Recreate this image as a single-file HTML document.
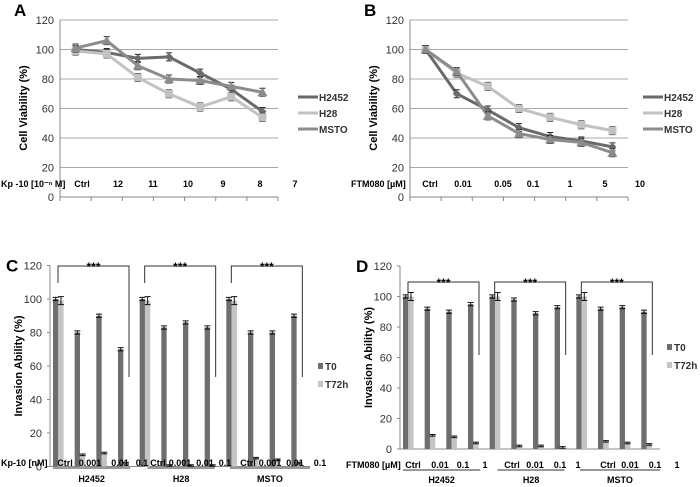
<!DOCTYPE html>
<html><head><meta charset="utf-8"><style>
body{margin:0;background:#fff}
svg{display:block;font-family:"Liberation Sans",sans-serif}
</style></head><body>
<svg id="fig" width="700" height="487" viewBox="0 0 700 487"></svg>
<script>
// ---- Panel A/B data ----
const catsA = ["Ctrl","12","11","10","9","8","7"];
const aH2452 = [100,98,94,95,84,73,58];
const aH28 = [99,97,81,70,61,68,54];
const aMSTO = [101,106,89,80,79,75,71];
const catsB = ["Ctrl","0.01","0.05","0.1","1","5","10"];
const bH2452 = [100,70,59,47,41,38,34];
const bH28 = [100,84,75,60,54,49,45];
const bMSTO = [100,85,55,43,39,37,30];
const yTicks = [0,20,40,60,80,100,120];
// ---- Panel C/D data ----
const cellLines = ["H2452","H28","MSTO"];
const concC = ["Ctrl","0.001","0.01","0.1"];
const concD = ["Ctrl","0.01","0.1","1"];
const cT0 = [100,80,90,70,100,83,86,83,100,80,80,90];
const cT72 = [99,7,8,2,99,0.6,0.6,0.6,99,5,4,2];
const dT0 = [100,92,90,95,100,98,89,93,100,92,93,90];
const dT72 = [100,9,8,4,100,2,2,1,100,5,4,3];

const S = document.getElementById('fig');
const NS = "http://www.w3.org/2000/svg";
function mk(tag, at, txt){const e=document.createElementNS(NS,tag);for(const k in at)e.setAttribute(k,at[k]);if(txt!=null)e.textContent=txt;S.appendChild(e);return e;}

function linePanel(ox, label, cats, series, names, colors, xLabel, labelXs, legX){
  const x0=ox+60, x1=ox+278, yb=197, yt=20;
  const y=v=>yb-(v/120)*(yb-yt);
  const cw=(x1-x0)/7;
  const X=i=>x0+cw*(i+0.5);
  let e=mk('text',{x:ox+14,y:16,'font-size':17,'font-weight':'bold'},label);
  
  
  yTicks.forEach(t=>{
    if(t>0){e=mk('line',{x1:x0,x2:x1,y1:y(t),y2:y(t),stroke:'#a8a8a8','stroke-width':1});
    }
    e=mk('text',{x:x0-6,y:y(t)+4,'font-size':11,'text-anchor':'end',fill:'#333'},t);
    
  });
  e=mk('line',{x1:x0,x2:x0,y1:yt,y2:yb,stroke:'#888'});
  
  e=mk('line',{x1:x0,x2:x1,y1:yb,y2:yb,stroke:'#888'});
  
  for(let i=0;i<=7;i++){e=mk('line',{x1:x0+cw*i,x2:x0+cw*i,y1:yb,y2:yb+4,stroke:'#888'});
    }
  e=mk('text',{x:0,y:0,'font-size':11,'font-weight':'bold','text-anchor':'middle',transform:`translate(${ox+27},108) rotate(-90)`},'Cell Viability (%)');
  
  e=mk('text',{x:ox+1,y:187,'font-size':9,'font-weight':'bold'},xLabel);
  
  cats.forEach((c,i)=>{e=mk('text',{x:labelXs[i],y:187,'font-size':9,'font-weight':'bold','text-anchor':'middle'},c);
    });
  series.forEach((d,s)=>{
    const pts=d.map((v,i)=>X(i)+','+y(v)).join(' ');
    e=mk('polyline',{points:pts,fill:'none',stroke:colors[s],'stroke-width':3});
    
    d.forEach((v,i)=>{
      e=mk('path',{d:`M${X(i)},${y(v)-4}V${y(v)+4}M${X(i)-3},${y(v)-4}H${X(i)+3}M${X(i)-3},${y(v)+4}H${X(i)+3}`,stroke:'#222','stroke-width':1,fill:'none'});
      
      if(s===1){e=mk('rect',{x:X(i)-4,y:y(v)-4,width:8,height:8,fill:colors[s]});}
      else if(s===2){e=mk('polygon',{points:`${X(i)},${y(v)-5} ${X(i)-5},${y(v)+4} ${X(i)+5},${y(v)+4}`,fill:colors[s]});}
      else{e=mk('polygon',{points:`${X(i)},${y(v)-4} ${X(i)+4},${y(v)} ${X(i)},${y(v)+4} ${X(i)-4},${y(v)}`,fill:colors[s]});}
      
    });
    const ly=97+s*16;
    e=mk('line',{x1:legX,x2:legX+20,y1:ly,y2:ly,stroke:colors[s],'stroke-width':3});
    
    e=mk('text',{x:legX+21,y:ly+4,'font-size':10,'font-weight':'bold',fill:'#333'},names[s]);
    
  });
}
const lcols=['#6a6a6a','#c2c2c2','#8c8c8c'];
linePanel(0,'A',catsA,[aH2452,aH28,aMSTO],['H2452','H28','MSTO'],lcols,'Kp -10 [10⁻ⁿ M]',[82,118,153,188,223,260,295],298);
linePanel(350,'B',catsB,[bH2452,bH28,bMSTO],['H2452','H28','MSTO'],lcols,'FTM080 [µM]',[430,463,503,533,570,605,640],643);

function barPanel(ox, label, yb, yt, t0, t72, conc, xLabel, labXs, brTop, brRightBottom, legX, legY, lineYs){
  const x0=ox+50, x1=ox+310;
  const y=v=>yb-(v/120)*(yb-yt);
  const gw=(x1-x0)/12;
  let e=mk('text',{x:ox+6,y:yt+6,'font-size':17,'font-weight':'bold'},label);
  
  yTicks.forEach(t=>{
    e=mk('text',{x:x0-8,y:y(t)+4,'font-size':11,'text-anchor':'end',fill:'#333'},t);
    
    e=mk('line',{x1:x0-3,x2:x0,y1:y(t),y2:y(t),stroke:'#888'});
    
  });
  e=mk('line',{x1:x0,x2:x0,y1:yt,y2:yb,stroke:'#888'});
  
  e=mk('line',{x1:x0,x2:x1,y1:yb,y2:yb,stroke:'#888'});
  
  e=mk('text',{x:0,y:0,'font-size':11,'font-weight':'bold','text-anchor':'middle',transform:`translate(${ox+22},${(yt+yb)/2}) rotate(-90)`},'Invasion Ability (%)');
  
  t0.forEach((v,i)=>{
    const bx=x0+gw*i+3;
    e=mk('rect',{x:bx,y:y(v),width:5.3,height:yb-y(v),fill:'#6e6e6e'});
    
    const w=t72[i];
    e=mk('rect',{x:bx+5.3,y:y(w),width:5.3,height:yb-y(w),fill:'#c4c4c4'});
    
    [[bx+2.65,v,1],[bx+7.95,w,w>50?2.5:0.5]].forEach(([cx,val,er])=>{
      e=mk('path',{d:`M${cx},${y(val)-er*1.6}V${y(val)+er*1.6}M${cx-3},${y(val)-er*1.6}H${cx+3}M${cx-3},${y(val)+er*1.6}H${cx+3}`,stroke:'#111','stroke-width':1,fill:'none'});
      
    });
  });
  cellLines.forEach((c,g)=>{
    const lx=x0+gw*4*g+8, rx=x0+gw*4*g+gw*3+14;
    e=mk('path',{d:`M${lx},${brTop+17}V${brTop}H${rx}V${brRightBottom}`,stroke:'#333',fill:'none','stroke-width':1});
    
    e=mk('text',{x:(lx+rx)/2,y:brTop+5,'font-size':12,'text-anchor':'middle','font-weight':'bold'},'***');
    
    conc.forEach((k,j)=>{
      e=mk('text',{x:labXs[g*4+j],y:lineYs[0],'font-size':9,'font-weight':'bold','text-anchor':'middle'},k);
      
    });
    const ul=[[x0+3,x0+gw*3.7],[x0+gw*4.5,x0+gw*7.6],[x0+gw*8.3,x0+gw*12]][g];
    e=mk('line',{x1:ul[0],x2:ul[1],y1:lineYs[1],y2:lineYs[1],stroke:'#333'});
    
    e=mk('text',{x:(ul[0]+ul[1])/2,y:lineYs[2],'font-size':9,'font-weight':'bold','text-anchor':'middle'},c);
    
  });
  e=mk('text',{x:xLabel[1],y:lineYs[0],'font-size':9,'font-weight':'bold'},xLabel[0]);
  
  [['T0','#6e6e6e'],['T72h','#c4c4c4']].forEach(([n,c],k)=>{
    e=mk('rect',{x:legX,y:legY+k*18-4,width:5,height:6,fill:c});
    
    e=mk('text',{x:legX+7,y:legY+k*18+3,'font-size':10,'font-weight':'bold',fill:'#333'},n);
    
  });
}
barPanel(0,'C',466.5,265.5,cT0,cT72,concC,['Kp-10 [nM]',1],[65,90,120,142,158,180,205,225,248,270,295,320],266,377,318,367,[466,468,482]);
barPanel(350,'D',449,266,dT0,dT72,concD,['FTM080 [µM]',346],[413,440,463,485,512,535,560,578,608,630,655,677],282,355,667,348,[468,470,483]);
</script>
</body></html>
